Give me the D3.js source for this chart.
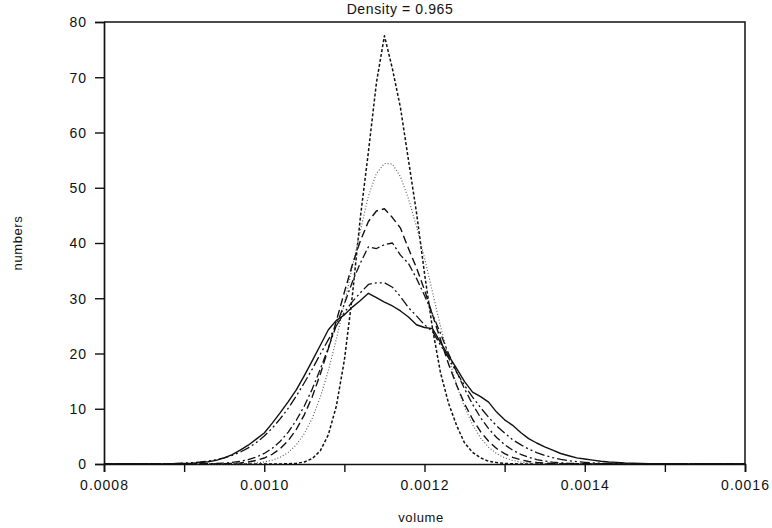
<!DOCTYPE html>
<html>
<head>
<meta charset="utf-8">
<script src="https://cdn.jsdelivr.net/npm/d3@7"></script>
<style>
  body { margin: 0; background: #fff; }
  text { font-family: "Liberation Sans", Arial, sans-serif; fill: #111; }
</style>
</head>
<body>
<div id="chart"></div>
<script>
// histogram bin centres, 0.00088 .. 0.00150 in steps of 0.00001
const volume = d3.range(88, 151).map(i => i * 1e-5);

// one array per curve (same length as volume)
const shortDash = [
  0, 0, 0, 0, 0, 0, 0, 0, 0, 0, 0, 0, 0, 0,
  0.01, 0.04, 0.12, 0.37, 0.99, 2.41, 5.3, 10.5, 18.8, 30.5,
  44.7, 56.5, 69.0, 77.5, 71.5, 64.5, 55, 45.5, 34.5, 24.5,
  16.5, 11, 7, 3.8, 2.1, 1.1, 0.5, 0.25, 0.1, 0.05,
  0, 0, 0, 0, 0, 0, 0, 0, 0, 0, 0, 0, 0, 0, 0, 0, 0, 0, 0
];
const dotted = [
  0, 0, 0, 0, 0, 0, 0,
  0.01, 0.02, 0.04, 0.09, 0.19, 0.37, 0.68, 1.22, 2.1, 3.47, 5.49, 8.32,
  12.1, 16.9, 22.6, 29.0, 35.7, 42.3, 48.5, 52.6, 54.4, 54.3, 52.0, 48.0,
  43.0, 37.3, 31.1, 24.9, 19.3, 14.3, 10.3, 7.1, 4.7, 3.03, 1.87, 1.12,
  0.64, 0.36, 0.19, 0.1, 0.05, 0.02,
  0, 0, 0, 0, 0, 0, 0, 0, 0, 0, 0, 0, 0, 0
];
const longDash = [
  0, 0, 0, 0, 0,
  0.01, 0.03, 0.06, 0.11, 0.2, 0.36, 0.64, 1.08, 1.76, 2.78, 4.24, 6.25,
  8.9, 12.2, 16.3, 20.9, 25.9, 31.1, 36.1, 40.4, 43.9, 45.8, 46.2, 44.6,
  42.7, 39.0, 35.5, 31.5, 27.0, 22.5, 18.1, 14.3, 10.9, 8.1, 5.85, 4.11,
  2.81, 1.87, 1.21, 0.76, 0.46, 0.28, 0.16, 0.09, 0.05, 0.02,
  0, 0, 0, 0, 0, 0, 0, 0, 0, 0, 0, 0
];
const dashDot = [
  0, 0, 0,
  0.01, 0.03, 0.05, 0.1, 0.17, 0.3, 0.49, 0.79, 1.25, 1.91, 2.84, 4.11,
  5.78, 7.91, 10.5, 13.6, 17.2, 21.0, 25.1, 29.0, 33.0, 36.4, 39.3, 39.0,
  39.7, 40.0, 37.8, 36.3, 33.6, 30.5, 27.1, 23.6, 20.0, 16.7, 13.6, 10.8,
  8.4, 6.4, 4.8, 3.5, 2.5, 1.76, 1.21, 0.81, 0.53, 0.34, 0.21, 0.13,
  0.08, 0.05, 0.03, 0.01,
  0, 0, 0, 0, 0, 0, 0, 0
];
const dashDotDot = [
  0.06, 0.1, 0.16, 0.24, 0.36, 0.54, 0.78, 1.11, 1.56, 2.15, 2.92, 3.87,
  5.06, 6.49, 8.2, 10.1, 12.3, 14.7, 17.2, 19.9, 22.5, 25.0, 27.4, 29.4,
  31.0, 32.5, 32.8, 32.8, 32.0, 30.3, 28.3, 26.8, 25.2, 24.0, 21.5, 19.2,
  16.6, 14.2, 12.1, 10.2, 8.45, 6.9, 5.6, 4.4, 3.5, 2.7, 2.06, 1.55,
  1.15, 0.84, 0.61, 0.43, 0.3, 0.2, 0.14, 0.09, 0.06, 0.04, 0.02, 0.01,
  0, 0, 0
];
const solid = [
  0, 0.05, 0.1, 0.15, 0.25, 0.4, 0.65, 1.1, 1.7, 2.5, 3.4, 4.5,
  5.6, 7.4, 9.3, 11.3, 13.4, 16.0, 18.7, 21.5, 24.3, 26.0, 27.0, 28.4,
  29.6, 30.9, 30.1, 29.3, 28.6, 27.7, 26.6, 25.2, 24.7, 24.5, 22.0, 19.6,
  17.3, 14.9, 13.0, 12.2, 11.2, 9.4, 8.0, 7.0, 5.7, 4.6, 3.8, 3.1,
  2.5, 1.9, 1.5, 1.1, 0.9, 0.7, 0.5, 0.35, 0.3, 0.2, 0.15, 0.1,
  0.05, 0, 0
];

const xTicks = [0.0008, 0.0009, 0.0010, 0.0011, 0.0012, 0.0013, 0.0014, 0.0015, 0.0016];
const xLabelTicks = [0.0008, 0.0010, 0.0012, 0.0014, 0.0016];
const yTicks = [0, 10, 20, 30, 40, 50, 60, 70, 80];

const series = [
  { name: "shortDash", values: shortDash, dash: "3,2", width: 1.5, color: "#111" },
  { name: "dotted", values: dotted, dash: "1,2", width: 1.1, color: "#555" },
  { name: "longDash", values: longDash, dash: "8,4", width: 1.4, color: "#111" },
  { name: "dashDot", values: dashDot, dash: "8,3,2,3", width: 1.3, color: "#111" },
  { name: "dashDotDot", values: dashDotDot, dash: "10,3,2,3,2,3", width: 1.3, color: "#111" },
  { name: "solid", values: solid, dash: null, width: 1.4, color: "#111" },
];

const width = 772, height = 528;
const margin = { top: 22, right: 27, bottom: 64, left: 104 };

const svg = d3.select("#chart").append("svg")
  .attr("width", width)
  .attr("height", height);

const x = d3.scaleLinear()
  .domain([0.0008, 0.0016])
  .range([margin.left, width - margin.right]);

const y = d3.scaleLinear()
  .domain([0, 80])
  .range([height - margin.bottom, margin.top]);

// frame (top + right)
svg.append("path")
  .attr("d", `M${x(0.0008)},${y(80)}H${x(0.0016)}V${y(0)}`)
  .attr("fill", "none")
  .attr("stroke", "#111")
  .attr("stroke-width", 1.5);

// x axis
const xAxis = svg.append("g")
  .attr("transform", `translate(0,${y(0)})`)
  .call(d3.axisBottom(x)
    .tickValues(xTicks)
    .tickSize(8)
    .tickFormat(d => xLabelTicks.some(v => Math.abs(v - d) < 1e-9) ? d3.format(".4f")(d) : ""));

// y axis
const yAxis = svg.append("g")
  .attr("transform", `translate(${x(0.0008)},0)`)
  .call(d3.axisLeft(y).tickValues(yTicks).tickSize(9).tickPadding(8));

[xAxis, yAxis].forEach(g => {
  g.select(".domain").attr("stroke", "#111").attr("stroke-width", 1.7);
  g.selectAll(".tick line").attr("stroke", "#111").attr("stroke-width", 1.4);
  g.selectAll(".tick text")
    .attr("fill", "#111")
    .style("font-size", "14px")
    .style("letter-spacing", "1px")
    .style("font-family", "'Liberation Sans', Arial, sans-serif");
});
xAxis.selectAll(".tick text").attr("dy", "1.05em");
yAxis.selectAll(".tick text").attr("dy", "0.35em");

// curves
const line = d3.line()
  .x(d => x(d[0]))
  .y(d => y(d[1]));

series.forEach(s => {
  const pts = [[x.domain()[0], 0], ...volume.map((v, i) => [v, s.values[i]]), [x.domain()[1], 0]];
  svg.append("path")
    .datum(pts)
    .attr("class", s.name)
    .attr("fill", "none")
    .attr("stroke", s.color)
    .attr("stroke-width", s.width)
    .attr("stroke-dasharray", s.dash)
    .attr("stroke-linejoin", "round")
    .attr("d", line);
});

// title
svg.append("text")
  .attr("x", 400)
  .attr("y", 14)
  .attr("text-anchor", "middle")
  .style("font-size", "14px")
  .style("letter-spacing", "0.6px")
  .text("Density = 0.965");

// axis titles
svg.append("text")
  .attr("x", 421)
  .attr("y", 522)
  .attr("text-anchor", "middle")
  .style("font-size", "13px")
  .style("letter-spacing", "0.6px")
  .text("volume");

svg.append("text")
  .attr("transform", "translate(22,243) rotate(-90)")
  .attr("text-anchor", "middle")
  .style("font-size", "13px")
  .style("letter-spacing", "0.6px")
  .text("numbers");
</script>
</body>
</html>
